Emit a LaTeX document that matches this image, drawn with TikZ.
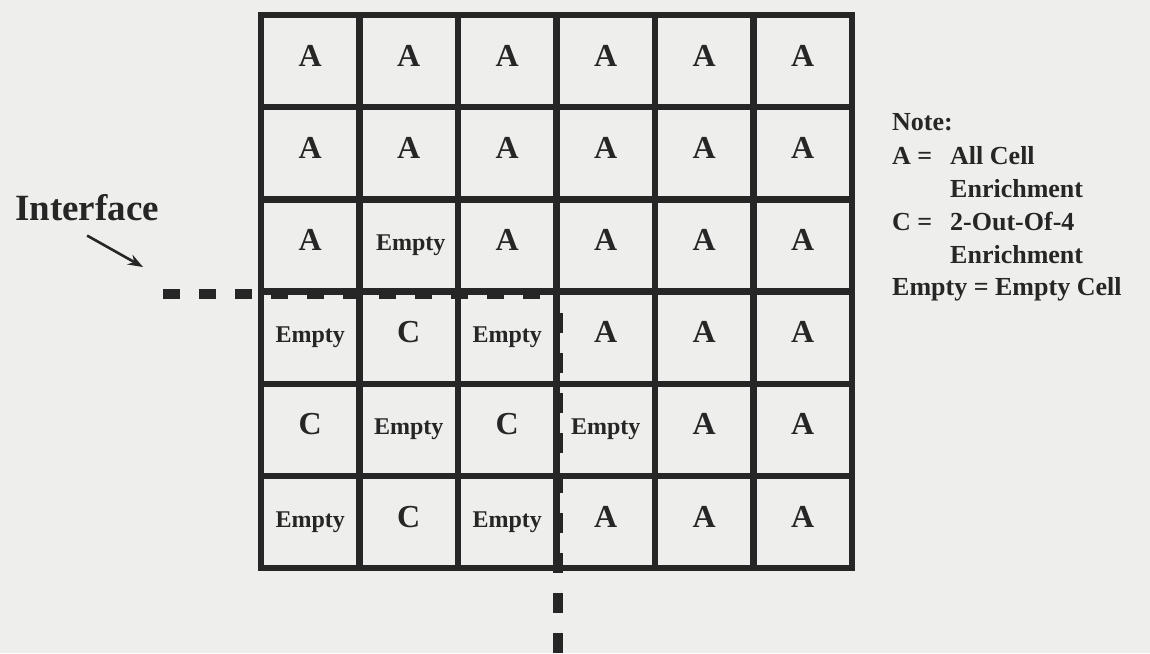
\documentclass[tikz,border=0pt]{standalone}
\usepackage{fontspec}
\setmainfont{Liberation Serif}
\usetikzlibrary{arrows.meta}

\definecolor{paper}{RGB}{238,238,236}
\definecolor{ink}{RGB}{38,38,38}

\begin{document}
\begin{tikzpicture}[
  cellbig/.style   = {font=\bfseries\fontsize{32}{32}\selectfont, anchor=base, inner sep=0pt, text=ink},
  cellempty/.style = {font=\bfseries\fontsize{24}{24}\selectfont, anchor=base, inner sep=0pt, text=ink},
  notetext/.style  = {font=\bfseries\fontsize{26}{26}\selectfont, anchor=base west, inner sep=0pt, text=ink},
  ifctext/.style   = {font=\bfseries\fontsize{37}{37}\selectfont, anchor=base west, inner sep=0pt, text=ink},
  gridline/.style  = {draw=ink, line width=6.5pt, line cap=rect},
  ifcline/.style   = {draw=ink, line width=10pt},
  ifcarrow/.style  = {-{Stealth[length=15pt,width=11pt]}, draw=ink, fill=ink, line width=2.6pt},
  x=1pt, y=-1pt,
]

  \useasboundingbox (0,0) rectangle (1150,653);
  \fill[paper] (0,0) rectangle (1150,653);

  % grid
  \draw[gridline] (261.00,15.00) rectangle (852.00,568.20);
  \draw[gridline] (359.50,15.00) -- (359.50,568.20);
  \draw[gridline] (458.00,15.00) -- (458.00,568.20);
  \draw[gridline] (556.50,15.00) -- (556.50,568.20);
  \draw[gridline] (655.00,15.00) -- (655.00,568.20);
  \draw[gridline] (753.50,15.00) -- (753.50,568.20);
  \draw[gridline] (261.00,107.20) -- (852.00,107.20);
  \draw[gridline] (261.00,199.40) -- (852.00,199.40);
  \draw[gridline] (261.00,291.60) -- (852.00,291.60);
  \draw[gridline] (261.00,383.80) -- (852.00,383.80);
  \draw[gridline] (261.00,476.00) -- (852.00,476.00);

  % cells
  \node[cellbig]   (cell11) at (310.25,66.10) {A};
  \node[cellbig]   (cell12) at (408.75,66.10) {A};
  \node[cellbig]   (cell13) at (507.25,66.10) {A};
  \node[cellbig]   (cell14) at (605.75,66.10) {A};
  \node[cellbig]   (cell15) at (704.25,66.10) {A};
  \node[cellbig]   (cell16) at (802.75,66.10) {A};
  \node[cellbig]   (cell21) at (310.25,158.30) {A};
  \node[cellbig]   (cell22) at (408.75,158.30) {A};
  \node[cellbig]   (cell23) at (507.25,158.30) {A};
  \node[cellbig]   (cell24) at (605.75,158.30) {A};
  \node[cellbig]   (cell25) at (704.25,158.30) {A};
  \node[cellbig]   (cell26) at (802.75,158.30) {A};
  \node[cellbig]   (cell31) at (310.25,250.50) {A};
  \node[cellempty] (cell32) at (410.75,250.50) {Empty};
  \node[cellbig]   (cell33) at (507.25,250.50) {A};
  \node[cellbig]   (cell34) at (605.75,250.50) {A};
  \node[cellbig]   (cell35) at (704.25,250.50) {A};
  \node[cellbig]   (cell36) at (802.75,250.50) {A};
  \node[cellempty] (cell41) at (310.25,342.70) {Empty};
  \node[cellbig]   (cell42) at (408.75,342.70) {C};
  \node[cellempty] (cell43) at (507.25,342.70) {Empty};
  \node[cellbig]   (cell44) at (605.75,342.70) {A};
  \node[cellbig]   (cell45) at (704.25,342.70) {A};
  \node[cellbig]   (cell46) at (802.75,342.70) {A};
  \node[cellbig]   (cell51) at (310.25,434.90) {C};
  \node[cellempty] (cell52) at (408.75,434.90) {Empty};
  \node[cellbig]   (cell53) at (507.25,434.90) {C};
  \node[cellempty] (cell54) at (605.75,434.90) {Empty};
  \node[cellbig]   (cell55) at (704.25,434.90) {A};
  \node[cellbig]   (cell56) at (802.75,434.90) {A};
  \node[cellempty] (cell61) at (310.25,527.10) {Empty};
  \node[cellbig]   (cell62) at (408.75,527.10) {C};
  \node[cellempty] (cell63) at (507.25,527.10) {Empty};
  \node[cellbig]   (cell64) at (605.75,527.10) {A};
  \node[cellbig]   (cell65) at (704.25,527.10) {A};
  \node[cellbig]   (cell66) at (802.75,527.10) {A};

  % interface
  \coordinate (ifcstart)  at (163.00,294.00);
  \coordinate (ifccorner) at (557.50,294.00);
  \coordinate (ifcend)    at (557.50,653.00);
  \draw[ifcline, dash pattern=on 17pt off 19pt] (ifcstart) -- (ifccorner);
  \draw[ifcline, dash pattern=on 20pt off 20pt, dash phase=21pt] (ifccorner) -- (ifcend);

  \node[ifctext] (ifclabel) at (15.00,220.00) {Interface};
  \coordinate (ifctip) at (143.00,267.00);
  \draw[ifcarrow] ([yshift=-15pt]ifclabel.south) -- (ifctip);

  % note
  \node[notetext] (note)   at (892.00,130.00) {Note:};
  \node[notetext] (keyA)   at (892.00,164.00) {A =};
  \node[notetext] (descA)  at (950.00,164.00) {All Cell};
  \node[notetext] (descAb) at (950.00,197.00) {Enrichment};
  \node[notetext] (keyC)   at (892.00,230.00) {C =};
  \node[notetext] (descC)  at (950.00,230.00) {2-Out-Of-4};
  \node[notetext] (descCb) at (950.00,263.00) {Enrichment};
  \node[notetext] (keyE)   at (892.00,295.00) {Empty = Empty Cell};
\end{tikzpicture}
\end{document}
